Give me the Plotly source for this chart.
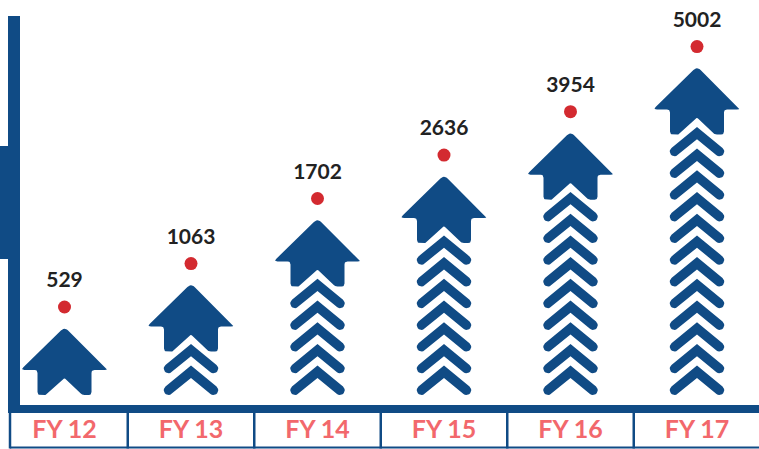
import math
import plotly.graph_objects as go

# ---------------- data ----------------
categories = ["FY 12", "FY 13", "FY 14", "FY 15", "FY 16", "FY 17"]
values = [529, 1063, 1702, 2636, 3954, 5002]
chevron_counts = [0, 2, 5, 7, 9, 12]

# ---------------- style / geometry constants ----------------
BLUE = "#104b85"
RED = "#d32a30"
SALMON = "#f2686c"
DARK = "#222222"

W, H = 759, 449
PX_PER_UNIT = 126.5          # pixels per category step on x
X0_PX = 64.5                 # pixel position of first category
Y_BOTTOM = -54               # data y at bottom of figure (y data in pixel units)
Y_TOP = 395

STEP = 21.7                  # vertical step between chevrons
HEAD_H = 68                  # apex height above stem bottom
T = 9.5                      # chevron stroke thickness
CH_HALF = 22.5               # chevron centerline half span
CH_DY = 18.5                 # chevron centerline rise


def round_poly(pts, radii, n=6):
    out = []
    m = len(pts)
    for k in range(m):
        vx, vy = pts[k]
        r = radii[k]
        if r <= 0:
            out.append((vx, vy))
            continue
        px, py = pts[k - 1]
        nx, ny = pts[(k + 1) % m]
        d1 = math.hypot(px - vx, py - vy)
        d2 = math.hypot(nx - vx, ny - vy)
        a = (vx + (px - vx) / d1 * r, vy + (py - vy) / d1 * r)
        b = (vx + (nx - vx) / d2 * r, vy + (ny - vy) / d2 * r)
        for j in range(n + 1):
            t = j / n
            x = (1 - t) ** 2 * a[0] + 2 * (1 - t) * t * vx + t ** 2 * b[0]
            y = (1 - t) ** 2 * a[1] + 2 * (1 - t) * t * vy + t ** 2 * b[1]
            out.append((x, y))
    return out


def head_shape():
    pts = [(0, HEAD_H), (44, HEAD_H - 43), (27, HEAD_H - 43), (27, 0), (18, 0),
           (0, 17), (-18, 0), (-27, 0), (-27, HEAD_H - 43), (-44, HEAD_H - 43)]
    radii = [5, 4, 3, 3, 2, 1, 2, 3, 3, 4]
    return round_poly(pts, radii)


def chevron_shape():
    h = T / 2
    p0 = (-CH_HALF, h)
    p1 = (0, h + CH_DY)
    p2 = (CH_HALF, h)
    th = math.atan2(CH_DY, CH_HALF)
    c, s = math.cos(th), math.sin(th)
    n = (-s, c)      # outward normal of left arm
    mm = (s, c)      # outward normal of right arm
    pts = [(p0[0] + h * n[0], p0[1] + h * n[1]),
           (p1[0], p1[1] + h / c),
           (p2[0] + h * mm[0], p2[1] + h * mm[1])]
    a0 = math.pi / 2 - th
    for j in range(1, 10):
        a = a0 - math.pi * j / 10
        pts.append((p2[0] + h * math.cos(a), p2[1] + h * math.sin(a)))
    pts += [(p2[0] - h * mm[0], p2[1] - h * mm[1]),
            (p1[0], p1[1] - h / c),
            (p0[0] - h * n[0], p0[1] - h * n[1])]
    a0 = th - math.pi / 2
    for j in range(1, 10):
        a = a0 - math.pi * j / 10
        pts.append((p0[0] + h * math.cos(a), p0[1] + h * math.sin(a)))
    return pts


HEAD = head_shape()
CHEV = chevron_shape()

fig = go.Figure()

apex_y = []
for i, (cat, nchev) in enumerate(zip(categories, chevron_counts)):
    xs, ys = [], []
    polys = [(CHEV, k * STEP) for k in range(nchev)] + [(HEAD, nchev * STEP)]
    for shape, base in polys:
        for dx, dy in shape:
            xs.append(i + dx / PX_PER_UNIT)
            ys.append(base + dy)
        xs.append(i + shape[0][0] / PX_PER_UNIT)
        ys.append(base + shape[0][1])
        xs.append(None)
        ys.append(None)
    apex_y.append(nchev * STEP + HEAD_H)
    fig.add_trace(go.Scatter(x=xs, y=ys, mode="lines", fill="toself",
                             fillcolor=BLUE, line=dict(width=0, color=BLUE),
                             hoverinfo="skip", showlegend=False))

idx = list(range(len(categories)))

# red dots
fig.add_trace(go.Scatter(x=idx, y=[a + 20 for a in apex_y], mode="markers",
                         marker=dict(size=13, color=RED), showlegend=False,
                         hoverinfo="skip"))
# value labels
fig.add_trace(go.Scatter(x=idx, y=[a + 45 for a in apex_y], mode="text",
                         text=[str(v) for v in values],
                         textfont=dict(family="Lato", size=21, color=DARK, weight="bold"),
                         textposition="middle center", showlegend=False,
                         hoverinfo="skip"))
# category labels
fig.add_trace(go.Scatter(x=idx, y=[-37] * len(idx), mode="text",
                         text=categories,
                         textfont=dict(family="Lato", size=25, color=SALMON, weight="bold"),
                         textposition="middle center", showlegend=False,
                         hoverinfo="skip"))

shapes = []
# baseline bar
shapes.append(dict(type="rect", xref="paper", yref="y", x0=8 / W, x1=1, y0=-10, y1=-18,
                   fillcolor=BLUE, line=dict(width=0), layer="below"))
# left vertical bar
shapes.append(dict(type="rect", xref="paper", yref="y", x0=8 / W, x1=20 / W, y0=-18, y1=379,
                   fillcolor=BLUE, line=dict(width=0), layer="below"))
# left block
shapes.append(dict(type="rect", xref="paper", yref="y", x0=0, x1=8 / W, y0=136, y1=249,
                   fillcolor=BLUE, line=dict(width=0), layer="below"))
# label box borders
shapes.append(dict(type="line", xref="paper", yref="y", x0=10 / W, x1=1, y0=-52.5, y1=-52.5,
                   line=dict(width=2, color=BLUE)))
shapes.append(dict(type="line", xref="paper", yref="y", x0=10 / W, x1=10 / W, y0=-18, y1=-53.5,
                   line=dict(width=2.5, color=BLUE)))
for i in idx[:-1]:
    shapes.append(dict(type="line", xref="x", yref="y", x0=i + 0.5, x1=i + 0.5, y0=-18, y1=-53.5,
                       line=dict(width=2.5, color=BLUE)))

fig.update_layout(
    width=W, height=H, autosize=False,
    margin=dict(l=0, r=0, t=0, b=0, pad=0),
    paper_bgcolor="white", plot_bgcolor="white",
    shapes=shapes,
    xaxis=dict(range=[-X0_PX / PX_PER_UNIT, (W - X0_PX) / PX_PER_UNIT], visible=False,
               fixedrange=True),
    yaxis=dict(range=[Y_BOTTOM, Y_TOP], visible=False, fixedrange=True),
)

fig.write_html(
    "out.html",
    config={"displayModeBar": False},
    post_script="document.body.style.margin='0px';document.body.style.padding='0px';"
                "document.body.style.overflow='hidden';",
)
